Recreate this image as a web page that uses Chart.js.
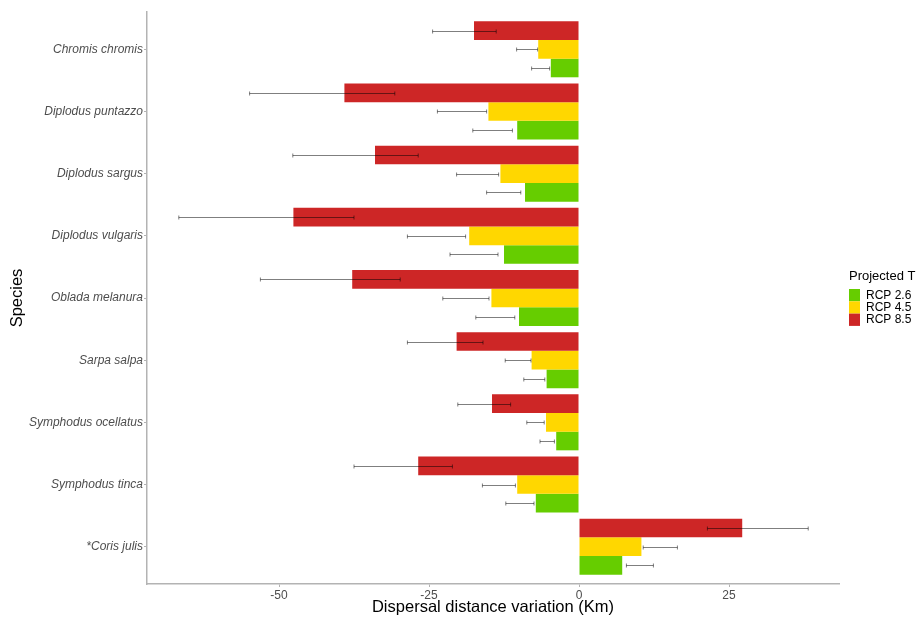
<!DOCTYPE html>
<html>
<head>
<meta charset="UTF-8">
<title>Dispersal distance variation</title>
<style>
body {
	margin: 0;
	background-color: #ffffff;
}
.chart-box {
	width: 922px;
	height: 617px;
}
</style>
<script src="https://cdn.jsdelivr.net/npm/chart.js"></script>
<script>
    const species = ['Chromis chromis', 'Diplodus puntazzo', 'Diplodus sargus', 'Diplodus vulgaris',
        'Oblada melanura', 'Sarpa salpa', 'Symphodus ocellatus', 'Symphodus tinca', '*Coris julis'];

    // mean variation (Km) per scenario, with lower / upper ends of the error bars
    const rcp85 = [-17.5, -39.1, -34.0, -47.6, -37.8, -20.4, -14.5, -26.8, 27.2];
    const rcp85Low = [-24.4, -54.9, -47.7, -66.7, -53.1, -28.6, -20.2, -37.5, 21.4];
    const rcp85High = [-13.8, -30.7, -26.8, -37.5, -29.8, -16.0, -11.4, -21.1, 38.2];

    const rcp45 = [-6.8, -15.1, -13.1, -18.3, -14.6, -7.9, -5.5, -10.3, 10.4];
    const rcp45Low = [-10.4, -23.6, -20.4, -28.6, -22.7, -12.3, -8.7, -16.1, 10.7];
    const rcp45High = [-6.9, -15.4, -13.4, -18.9, -15.0, -8.0, -5.8, -10.6, 16.4];

    const rcp26 = [-4.7, -10.3, -9.0, -12.5, -10.0, -5.4, -3.8, -7.2, 7.2];
    const rcp26Low = [-7.9, -17.7, -15.4, -21.5, -17.2, -9.2, -6.5, -12.2, 7.9];
    const rcp26High = [-4.9, -11.1, -9.7, -13.5, -10.7, -5.7, -4.1, -7.5, 12.4];

    const xTicks = [-50, -25, 0, 25];

    const fontFamily = "'Liberation Sans', Arial, sans-serif";
    const axisGrey = '#b3b3b3';
    const textGrey = '#4d4d4d';

    function toPoints(values) {
        return values.map((v, i) => ({ x: v, y: i + 1 }));
    }

    // error bars: horizontal line with small caps, drawn over the bars
    const errorBars = {
        id: 'errorBars',
        afterDatasetsDraw(chart) {
            const ctx = chart.ctx;
            const xScale = chart.scales.x;
            ctx.save();
            ctx.strokeStyle = 'rgba(0, 0, 0, 0.5)';
            ctx.lineWidth = 1;
            chart.data.datasets.forEach((ds, di) => {
                const meta = chart.getDatasetMeta(di);
                meta.data.forEach((bar, i) => {
                    const x1 = xScale.getPixelForValue(ds.errLow[i]);
                    const x2 = xScale.getPixelForValue(ds.errHigh[i]);
                    const y = Math.round(bar.y) + 0.5;
                    ctx.beginPath();
                    ctx.moveTo(x1, y);
                    ctx.lineTo(x2, y);
                    ctx.moveTo(x1, y - 2);
                    ctx.lineTo(x1, y + 2);
                    ctx.moveTo(x2, y - 2);
                    ctx.lineTo(x2, y + 2);
                    ctx.stroke();
                });
            });
            ctx.restore();
        }
    };

    // legend on the right, scenarios listed from lowest to highest
    const sideLegend = {
        id: 'sideLegend',
        afterDraw(chart) {
            const ctx = chart.ctx;
            const left = chart.chartArea.right + 10;
            let top = 289;
            ctx.save();
            ctx.fillStyle = '#000000';
            ctx.font = '13px ' + fontFamily;
            ctx.textBaseline = 'middle';
            ctx.textAlign = 'left';
            ctx.fillText('Projected T', left, 276);
            ctx.font = '12px ' + fontFamily;
            const items = chart.data.datasets.slice().reverse();
            items.forEach(ds => {
                ctx.fillStyle = ds.backgroundColor;
                ctx.fillRect(left, top, 11, 12.3);
                ctx.fillStyle = '#000000';
                ctx.fillText(ds.label, left + 17, top + 6.5);
                top += 12.3;
            });
            ctx.restore();
        }
    };

    document.addEventListener("DOMContentLoaded", function() {
        var ctx = document.getElementById('barChart').getContext('2d');

        new Chart(ctx, {
            type: 'bar',
            data: {
                datasets: [{
                    label: 'RCP 8.5',
                    data: toPoints(rcp85),
                    errLow: rcp85Low,
                    errHigh: rcp85High,
                    backgroundColor: '#cd2626'
                }, {
                    label: 'RCP 4.5',
                    data: toPoints(rcp45),
                    errLow: rcp45Low,
                    errHigh: rcp45High,
                    backgroundColor: '#ffd700'
                }, {
                    label: 'RCP 2.6',
                    data: toPoints(rcp26),
                    errLow: rcp26Low,
                    errHigh: rcp26High,
                    backgroundColor: '#66cd00'
                }]
            },
            options: {
                indexAxis: 'y',
                responsive: false,
                animation: false,
                devicePixelRatio: 1,
                layout: {
                    padding: { top: 12, right: 83, left: 0, bottom: 0 }
                },
                datasets: {
                    bar: {
                        categoryPercentage: 0.9,
                        barPercentage: 1.0,
                        borderWidth: 0
                    }
                },
                plugins: {
                    legend: { display: false },
                    tooltip: { enabled: false }
                },
                scales: {
                    x: {
                        type: 'linear',
                        min: -72,
                        max: 43.33,
                        afterBuildTicks: scale => {
                            scale.ticks = xTicks.map(v => ({ value: v }));
                        },
                        afterFit: scale => { scale.height = 33; },
                        grid: {
                            display: true,
                            drawOnChartArea: false,
                            drawTicks: true,
                            tickLength: 3,
                            color: axisGrey
                        },
                        border: { display: true, color: axisGrey, width: 1.5 },
                        ticks: {
                            padding: 1,
                            color: textGrey,
                            font: { family: fontFamily, size: 12 }
                        },
                        title: {
                            display: true,
                            text: 'Dispersal distance variation (Km)',
                            color: '#000000',
                            font: { family: fontFamily, size: 16.5 },
                            padding: { top: 0, bottom: 0 }
                        }
                    },
                    y: {
                        type: 'linear',
                        reverse: true,
                        offset: false,
                        min: 0.4,
                        max: 9.6,
                        afterBuildTicks: scale => {
                            scale.ticks = species.map((s, i) => ({ value: i + 1 }));
                        },
                        afterFit: scale => { scale.width = 147; },
                        grid: {
                            display: true,
                            offset: false,
                            drawOnChartArea: false,
                            drawTicks: true,
                            tickLength: 3,
                            color: axisGrey
                        },
                        border: { display: true, color: axisGrey, width: 1.5 },
                        ticks: {
                            padding: 1,
                            autoSkip: false,
                            color: textGrey,
                            font: { family: fontFamily, size: 12, style: 'italic' },
                            callback: value => species[value - 1]
                        },
                        title: {
                            display: true,
                            text: 'Species',
                            color: '#000000',
                            font: { family: fontFamily, size: 16.5 },
                            padding: { top: 8, bottom: 0 }
                        }
                    }
                }
            },
            plugins: [errorBars, sideLegend]
        });
    });
</script>
</head>
<body>
	<div class="chart-box">
		<canvas id="barChart" width="922" height="617"></canvas>
	</div>
</body>
</html>
